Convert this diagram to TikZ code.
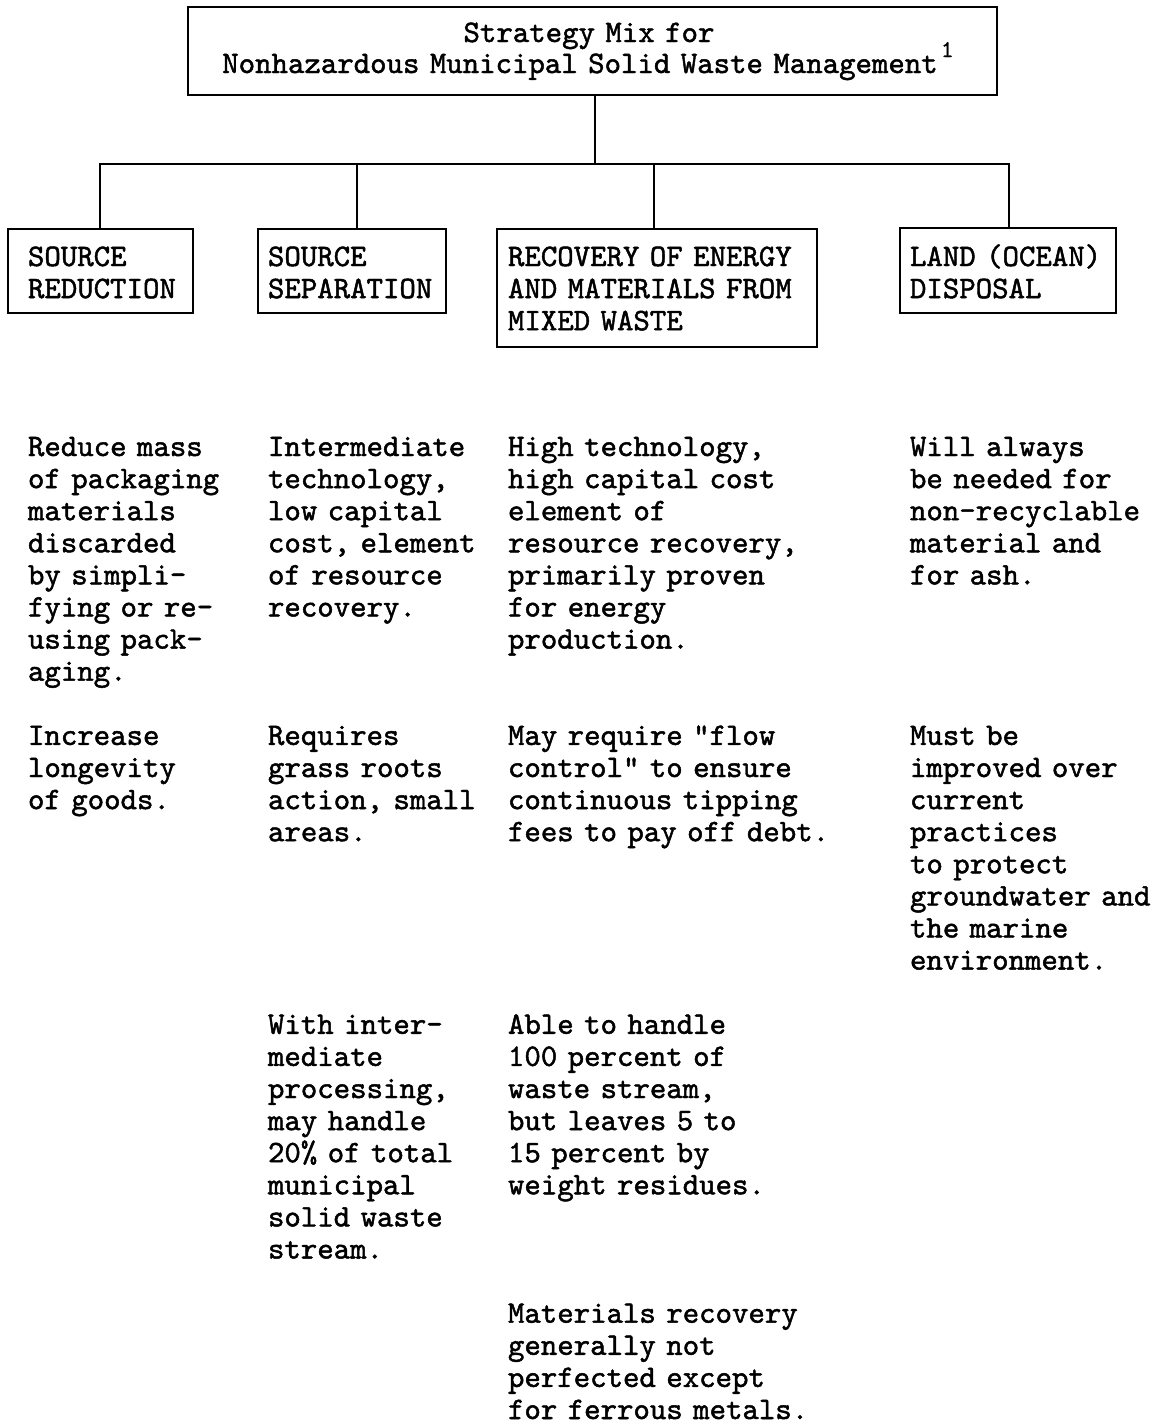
\documentclass[tikz,border=0pt]{standalone}
\usepackage{fontspec}
\newfontfamily\tw{lmmono10-regular.otf}[AutoFakeBold=1.5]
\lineskiplimit=-50pt
\begin{document}
\begin{tikzpicture}[x=1pt,y=-1pt,
  every node/.style={inner sep=0pt, outer sep=0pt},
  frame/.style={draw, line width=2.6pt, anchor=north west},
  txt/.style={anchor=base west, text width=420pt, align=left,
    font={\tw\bfseries\fontsize{31.3}{32.1}\selectfont}},
  link/.style={line width=2.6pt}]
\useasboundingbox (0,0) rectangle (1156,1425);

% boxes
\node[frame, minimum width=809pt, minimum height=88pt] (title) at (188,7) {};
\node[frame, minimum width=185pt, minimum height=84pt] (b1) at (8,229) {};
\node[frame, minimum width=188pt, minimum height=84pt] (b2) at (258,229) {};
\node[frame, minimum width=320pt, minimum height=118pt] (b3) at (497,229) {};
\node[frame, minimum width=216pt, minimum height=85pt] (b4) at (900,228) {};

% title text
\node[anchor=base west, text width=760pt, align=center,
  font={\tw\bfseries\fontsize{31.3}{31}\selectfont}] (tt) at (200,42)
  {\hspace*{18pt}Strategy Mix for\\Nonhazardous Municipal Solid Waste Management};
\node[anchor=base west, font={\tw\bfseries\fontsize{24}{24}\selectfont}] (fn) at (941,57) {1};

% box texts
\node[txt] (t1) at (28,266) {SOURCE\\REDUCTION};
\node[txt] (t2) at (268,266) {SOURCE\\SEPARATION};
\node[txt] (t3) at (508,266) {RECOVERY OF ENERGY\\AND MATERIALS FROM\\MIXED WASTE};
\node[txt] (t4) at (910,266) {LAND (OCEAN)\\DISPOSAL};

% connectors
\coordinate (hub) at (595,164);
\coordinate (d1) at (100,164);
\coordinate (d2) at (357,164);
\coordinate (d3) at (654,164);
\coordinate (d4) at (1009,164);
\draw[link] (hub |- title.south) -- (hub);
\draw[link] (d1 |- b1.north) -- (d1) -- (d4) -- (d4 |- b4.north);
\draw[link] (d2) -- (d2 |- b2.north);
\draw[link] (d3) -- (d3 |- b3.north);

% column 1
\node[txt] (c1a) at (28,456) {Reduce mass\\of packaging\\materials\\discarded\\by simpli-\\fying or re-\\using pack-\\aging.};
\node[txt] (c1b) at (28,744.9) {Increase\\longevity\\of goods.};

% column 2
\node[txt] (c2a) at (268,456) {Intermediate\\technology,\\low capital\\cost, element\\of resource\\recovery.};
\node[txt] (c2b) at (268,744.9) {Requires\\grass roots\\action, small\\areas.};
\node[txt] (c2c) at (268,1033.8) {With inter-\\mediate\\processing,\\may handle\\20\% of total\\municipal\\solid waste\\stream.};

% column 3
\node[txt] (c3a) at (508,456) {High technology,\\high capital cost\\element of\\resource recovery,\\primarily proven\\for energy\\production.};
\node[txt] (c3b) at (508,744.9) {May require "flow\\control" to ensure\\continuous tipping\\fees to pay off debt.};
\node[txt] (c3c) at (508,1033.8) {Able to handle\\100 percent of\\waste stream,\\but leaves 5 to\\15 percent by\\weight residues.};
\node[txt] (c3d) at (508,1322.7) {Materials recovery\\generally not\\perfected except\\for ferrous metals.};

% column 4
\node[txt] (c4a) at (910,456) {Will always\\be needed for\\non-recyclable\\material and\\for ash.};
\node[txt] (c4b) at (910,744.9) {Must be\\improved over\\current\\practices\\to protect\\groundwater and\\the marine\\environment.};
\end{tikzpicture}
\end{document}
